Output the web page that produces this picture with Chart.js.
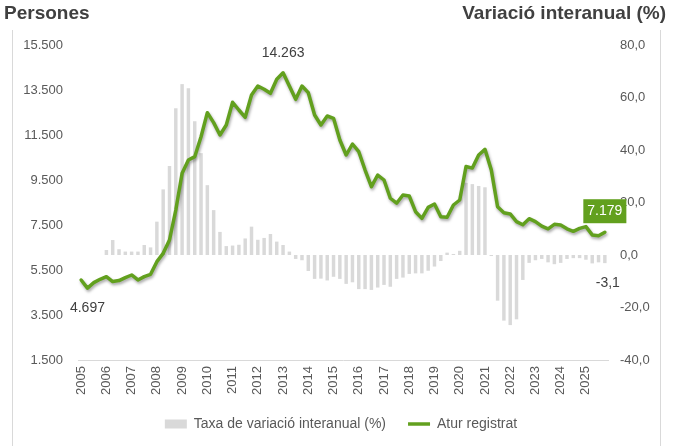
<!DOCTYPE html>
<html lang="ca">
<head>
<meta charset="utf-8">
<title>Atur registrat</title>
<script src="https://cdn.jsdelivr.net/npm/chart.js@4/dist/chart.umd.min.js"></script>
<style>
  html, body { margin: 0; padding: 0; background: #fff; }
  #wrap { position: relative; width: 682px; height: 446px; overflow: hidden; }
  #wrap canvas { position: absolute; left: 0; top: 0; }
  .title { position: absolute; top: 2px; font: bold 19px "Liberation Sans", Arial, sans-serif; color: #404040; }
  #titleLeft { left: 4px; }
  #titleRight { right: 16px; }
  #frame { position: absolute; left: 12px; width: 647px; top: 30px; bottom: -2px; border-left: 1px solid #d9d9d9; border-right: 1px solid #d9d9d9; }
</style>
</head>
<body>
<div id="wrap">
  <div id="frame"></div>
  <canvas id="chart" width="682" height="446"></canvas>
  <div class="title" id="titleLeft">Persones</div>
  <div class="title" id="titleRight">Variació interanual (%)</div>
</div>
<script>
// ===== Data (quarterly) =====
const years = ['2005', '2006', '2007', '2008', '2009', '2010', '2011', '2012', '2013', '2014', '2015',
  '2016', '2017', '2018', '2019', '2020', '2021', '2022', '2023', '2024', '2025'];
const quarters = ['T1', 'T2', 'T3', 'T4'];

// Atur registrat (persones)
const atur = [
  5056, 4697, 4937, 5086,
  5204, 4985, 5030, 5163,
  5278, 5056, 5204, 5307,
  5870, 6240, 6833, 8167,
  9800, 10389, 10537, 11422,
  12492, 12048, 11500, 11944,
  12954, 12611, 12287, 13278,
  13678, 13530, 13352, 13975,
  14263, 13678, 13085, 13678,
  13382, 12389, 11944, 12344,
  12240, 11278, 10611, 11100,
  10758, 9944, 9204, 9722,
  9500, 8689, 8467, 8833,
  8789, 8092, 7796, 8285,
  8433, 7870, 7841, 8389,
  8611, 10100, 10030, 10611,
  10863, 9950, 8311, 8048,
  7990, 7650, 7510, 7780,
  7650, 7450, 7330, 7530,
  7500, 7330, 7220, 7350,
  7430, 7060, 7020, 7179
];

// Taxa de variació interanual (%)
const taxa = [
  null, null, null, null,
  1.9, 5.7, 2.2, 1.3,
  1.3, 1.3, 3.8, 2.9,
  12.7, 25.0, 33.9, 55.9,
  65.1, 63.5, 51.0, 38.8,
  26.6, 17.1, 8.8, 3.4,
  3.6, 3.9, 6.3, 10.8,
  5.8, 6.5, 8.0, 5.1,
  3.8, 1.3, -1.5, -2.0,
  -6.1, -9.1, -9.0, -9.7,
  -8.3, -9.1, -11.0, -10.4,
  -13.0, -13.0, -13.3, -12.4,
  -11.4, -12.1, -9.1, -8.6,
  -7.2, -7.0, -7.0, -6.0,
  -4.4, -2.3, 0.9, 0.4,
  1.6, 27.5, 27.0, 26.3,
  25.8, -0.4, -17.4, -25.0,
  -26.7, -24.5, -9.5, -3.0,
  -2.0, -1.5, -2.8, -3.5,
  -3.0, -1.5, -1.2, -1.2,
  -1.8, -3.2, -2.8, -3.1
];

const leftTicks = { min: 1500, max: 15500, step: 2000 };
const rightTicks = { min: -40, max: 80, step: 20 };

const labels = [];
years.forEach(y => quarters.forEach(q => labels.push(y + ' ' + q)));

const GREEN = '#62a01e';
const GREY = '#d9d9d9';
const TEXT = '#595959';
const FONT = '"Liberation Sans", Arial, sans-serif';

const fmtThousands = v => String(Math.round(v)).replace(/\B(?=(\d{3})+(?!\d))/g, '.');
const fmtDecimal = v => v.toFixed(1).replace('.', ',');

// ===== Plugins =====
const lineShadow = {
  id: 'lineShadow',
  beforeDatasetDraw(chart, args) {
    if (args.index !== 1) return;
    const ctx = chart.ctx;
    ctx.save();
    ctx.shadowColor = 'rgba(0,0,0,0.35)';
    ctx.shadowBlur = 3;
    ctx.shadowOffsetX = 1;
    ctx.shadowOffsetY = 2;
  },
  afterDatasetDraw(chart, args) {
    if (args.index === 1) chart.ctx.restore();
  }
};

const valueLabels = {
  id: 'valueLabels',
  afterDatasetsDraw(chart) {
    const ctx = chart.ctx;
    const linePts = chart.getDatasetMeta(1).data;
    const barEls = chart.getDatasetMeta(0).data;
    const maxIdx = atur.indexOf(Math.max(...atur));
    const minIdx = atur.indexOf(Math.min(...atur));
    const last = atur.length - 1;

    ctx.save();
    ctx.font = '14px ' + FONT;
    ctx.textAlign = 'center';
    ctx.textBaseline = 'middle';
    ctx.fillStyle = '#404040';
    ctx.fillText(fmtThousands(atur[maxIdx]), linePts[maxIdx].x, linePts[maxIdx].y - 20);
    ctx.fillText(fmtThousands(atur[minIdx]), linePts[minIdx].x, linePts[minIdx].y + 20);
    ctx.fillText(fmtDecimal(taxa[last]), barEls[last].x + 3, barEls[last].y + 20);

    // last value in a green box
    const p = linePts[last];
    const txt = fmtThousands(atur[last]);
    const w = ctx.measureText(txt).width + 8;
    ctx.fillStyle = GREEN;
    ctx.fillRect(p.x - w / 2, p.y - 33, w, 24);
    ctx.fillStyle = '#fff';
    ctx.fillText(txt, p.x, p.y - 21);
    ctx.restore();
  }
};

// ===== Chart =====
new Chart(document.getElementById('chart'), {
  type: 'bar',
  data: {
    labels: labels,
    datasets: [
      {
        type: 'bar',
        label: 'Taxa de variació interanual (%)',
        data: taxa,
        yAxisID: 'y2',
        backgroundColor: GREY,
        borderWidth: 0,
        barPercentage: 0.55,
        categoryPercentage: 1,
        pointStyle: 'rect',
        order: 2
      },
      {
        type: 'line',
        label: 'Atur registrat',
        data: atur,
        yAxisID: 'y',
        borderColor: GREEN,
        backgroundColor: GREEN,
        borderWidth: 3.5,
        borderJoinStyle: 'round',
        borderCapStyle: 'round',
        pointRadius: 0,
        tension: 0,
        pointStyle: 'line',
        order: 1
      }
    ]
  },
  options: {
    responsive: false,
    animation: false,
    layout: { padding: { top: 45, left: 0, right: 0, bottom: 5 } },
    plugins: {
      tooltip: { enabled: false },
      legend: {
        position: 'bottom',
        labels: {
          usePointStyle: true,
          pointStyleWidth: 22,
          boxHeight: 9,
          padding: 22,
          color: TEXT,
          font: { family: FONT, size: 14 },
          sort: (a, b) => a.datasetIndex - b.datasetIndex
        }
      }
    },
    scales: {
      x: {
        type: 'category',
        offset: true,
        grid: { display: false, drawTicks: false },
        border: { display: true, color: GREY, width: 1 },
        ticks: {
          autoSkip: false,
          minRotation: 90,
          maxRotation: 90,
          padding: 6,
          color: TEXT,
          font: { family: FONT, size: 13 },
          callback: (v, i) => (i % 4 === 0 ? years[i / 4] : '')
        },
        afterFit: s => { s.height = 35; }
      },
      y: {
        position: 'left',
        min: leftTicks.min,
        max: leftTicks.max,
        grid: { display: false, drawTicks: false },
        border: { display: false },
        ticks: {
          stepSize: leftTicks.step,
          padding: 15,
          color: TEXT,
          font: { family: FONT, size: 13 },
          callback: v => fmtThousands(v)
        },
        afterFit: s => { s.width = 78; }
      },
      y2: {
        position: 'right',
        min: rightTicks.min,
        max: rightTicks.max,
        grid: { display: false, drawTicks: false },
        border: { display: false },
        ticks: {
          stepSize: rightTicks.step,
          padding: 12,
          color: TEXT,
          font: { family: FONT, size: 13 },
          callback: v => fmtDecimal(v)
        },
        afterFit: s => { s.width = 74; }
      }
    }
  },
  plugins: [lineShadow, valueLabels]
});
</script>
</body>
</html>
